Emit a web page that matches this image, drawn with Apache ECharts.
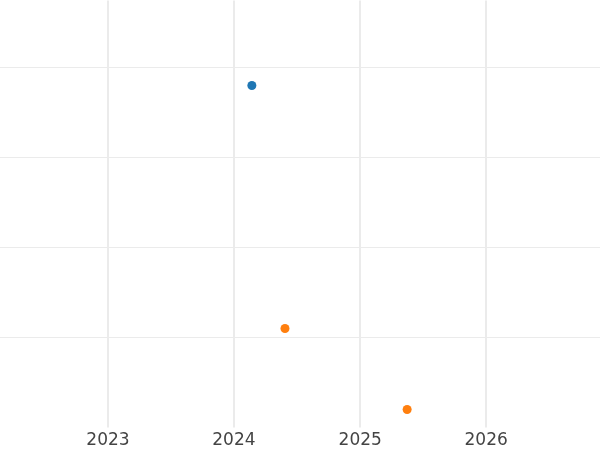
<!DOCTYPE html>
<html>
<head>
<meta charset="utf-8">
<script src="https://cdn.jsdelivr.net/npm/echarts@6/dist/echarts.min.js"></script>
<style>html,body{margin:0;padding:0;background:#fff}#c{width:600px;height:450px}</style>
</head>
<body>
<div id="c"></div>
<script>
var blueDates = ['2024-02-22'];
var blueValues = [3.8];
var orangeDates = ['2024-05-28', '2025-05-17'];
var orangeValues = [1.1, 0.2];
var xTickLabels = ['2023', '2024', '2025', '2026'];

function pairs(d, v) { return d.map(function (x, i) { return [x, v[i]]; }); }

var chart = echarts.init(document.getElementById('c'));
chart.setOption({
  animation: false,
  backgroundColor: '#ffffff',
  grid: { left: 0, right: 0, top: 0.5, bottom: 22.5, containLabel: false },
  xAxis: {
    type: 'time',
    min: '2022-02-22',
    max: '2026-11-27',
    minInterval: 365 * 24 * 3600 * 1000,
    axisLine: { show: false },
    axisTick: { show: false },
    axisLabel: {
      formatter: function (val) {
        var y = String(new Date(val).getFullYear());
        return xTickLabels.indexOf(y) >= 0 ? y : '';
      },
      color: '#444444',
      fontFamily: 'DejaVu Sans',
      fontSize: 17,
      margin: 5,
      hideOverlap: false
    },
    splitLine: { show: true, showMinLine: false, showMaxLine: false, lineStyle: { color: '#ebebeb', width: 2 } }
  },
  yAxis: {
    type: 'value',
    min: 0,
    max: 427 / 90,
    interval: 1,
    axisLine: { show: false },
    axisTick: { show: false },
    axisLabel: { show: false },
    splitLine: { show: true, showMinLine: false, showMaxLine: false, lineStyle: { color: '#ebebeb', width: 1 } }
  },
  series: [
    { type: 'scatter', data: pairs(blueDates, blueValues), symbolSize: 9, itemStyle: { color: '#1f77b4', opacity: 1 } },
    { type: 'scatter', data: pairs(orangeDates, orangeValues), symbolSize: 9, itemStyle: { color: '#ff7f0e', opacity: 1 } }
  ]
});
</script>
</body>
</html>
